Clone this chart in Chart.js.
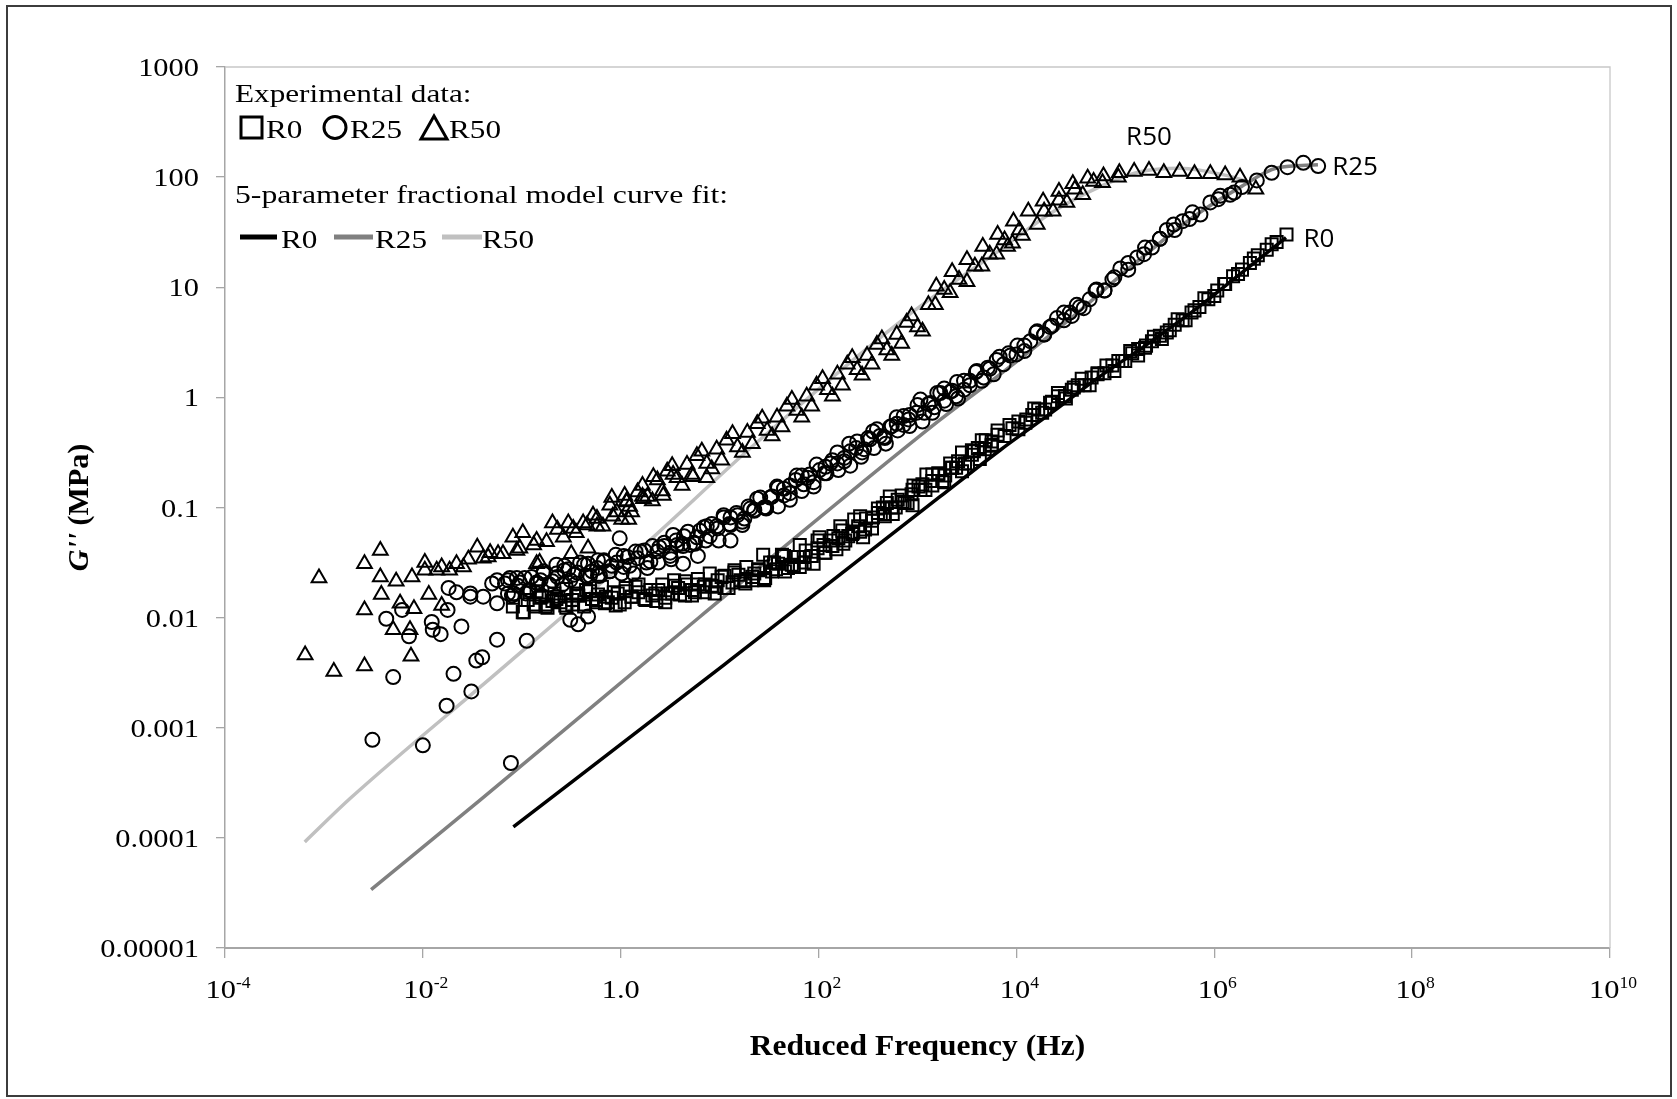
<!DOCTYPE html>
<html>
<head>
<meta charset="utf-8">
<title>G'' vs reduced frequency</title>
<script src="https://cdn.jsdelivr.net/npm/chart.js@4.4.1/dist/chart.umd.min.js"></script>
<style>
  html, body { margin: 0; padding: 0; background: #fff; }
  #wrap { width: 1677px; height: 1099px; }
</style>
</head>
<body>
<div id="wrap"><canvas id="chart" width="1677" height="1099"></canvas></div>
<script>
// All values as [log10 f (Hz), log10 G'' (MPa)]

// tick positions (exponents) and y tick labels
const xTickExps = [-4, -2, 0, 2, 4, 6, 8, 10];
const yTickExps = [-5, -4, -3, -2, -1, 0, 1, 2, 3];
const yTickLabels = ['0.00001', '0.0001', '0.001', '0.01', '0.1', '1', '10', '100', '1000'];

// experimental data, R0 (squares)
const r0Exp = [
  [-0.98,-1.95],[-0.94,-1.84],[-0.88,-1.88],[-0.82,-1.82],[-0.76,-1.90],[-0.69,-1.85],[-0.63,-1.81],[-0.56,-1.89],
  [-0.49,-1.84],[-0.43,-1.80],[-0.36,-1.88],[-0.29,-1.83],[-0.23,-1.79],[-0.16,-1.87],[-0.09,-1.82],[-0.03,-1.78],
  [0.04,-1.86],[0.11,-1.81],[0.18,-1.77],[0.25,-1.84],[0.32,-1.80],[0.38,-1.75],[0.45,-1.82],[0.52,-1.78],
  [0.58,-1.73],[0.65,-1.80],[0.72,-1.75],[0.78,-1.70],[0.85,-1.77],[0.92,-1.71],[0.98,-1.66],[1.05,-1.73],
  [1.13,-1.68],[1.19,-1.61],[1.26,-1.69],[1.33,-1.63],[1.39,-1.57],[1.46,-1.64],[1.53,-1.58],[1.59,-1.51],
  [1.66,-1.58],[1.73,-1.52],[1.79,-1.45],[1.86,-1.50],[1.93,-1.44],[1.99,-1.37],[2.07,-1.41],[2.14,-1.35],
  [2.20,-1.28],[2.27,-1.30],[2.34,-1.24],[2.40,-1.17],[2.47,-1.20],[2.54,-1.12],[2.60,-1.05],[2.67,-1.08],
  [2.74,-1.00],[2.80,-0.93],[2.87,-0.96],[2.94,-0.88],[3.01,-0.81],[3.08,-0.84],[3.15,-0.76],[3.21,-0.70],
  [3.28,-0.71],[3.35,-0.64],[3.41,-0.58],[3.48,-0.60],[3.55,-0.52],[3.61,-0.46],[3.68,-0.47],[3.75,-0.40],
  [3.81,-0.34],[3.88,-0.35],[3.96,-0.28],[4.02,-0.22],[4.09,-0.23],[4.16,-0.16],[4.22,-0.11],[4.29,-0.11],
  [4.36,-0.04],[4.42,0.01],[4.49,0.01],[4.56,0.07],[4.62,0.11],[4.69,0.11],[4.76,0.18],[4.82,0.22],
  [4.89,0.22],[4.97,0.29],[5.03,0.33],[5.10,0.33],[5.17,0.40],[5.23,0.44],[5.30,0.45],[5.37,0.51],
  [5.45,0.56],[5.52,0.59],[5.60,0.66],[5.68,0.70],[5.77,0.77],[5.85,0.82],[5.94,0.89],[6.03,0.97],
  [6.11,1.03],[6.19,1.10],[6.28,1.16],[6.36,1.22],[6.44,1.29],[6.53,1.34],[6.63,1.41],[6.73,1.48],
  [-1.09,-1.82],[-0.99,-1.95],[-1.09,-1.90],[1.44,-1.43],[1.81,-1.34],[2.01,-1.27],[2.22,-1.17],[2.42,-1.08],
  [2.69,-0.96],[2.95,-0.84]
];
// further passes over the dense R0 band
const r0ExpDense = [
  [-0.92,-1.77],[-0.86,-1.90],[-0.80,-1.81],[-0.74,-1.91],[-0.67,-1.78],[-0.61,-1.86],[-0.55,-1.74],[-0.49,-1.88],
  [-0.43,-1.80],[-0.37,-1.90],[-0.31,-1.76],[-0.25,-1.84],[-0.19,-1.72],[-0.13,-1.86],[-0.07,-1.77],[-0.01,-1.88],
  [0.05,-1.73],[0.11,-1.81],[0.18,-1.70],[0.24,-1.83],[0.30,-1.75],[0.36,-1.85],[0.42,-1.70],[0.48,-1.78],
  [0.54,-1.66],[0.60,-1.79],[0.66,-1.70],[0.72,-1.80],[0.78,-1.65],[0.84,-1.72],[0.90,-1.60],[0.96,-1.72],
  [1.02,-1.63],[1.09,-1.73],[1.15,-1.59],[1.21,-1.66],[1.27,-1.54],[1.33,-1.66],[1.39,-1.56],[1.45,-1.65],
  [1.51,-1.50],[1.57,-1.56],[1.63,-1.43],[1.69,-1.55],[1.75,-1.45],[1.81,-1.54],[1.87,-1.39],[1.93,-1.44],
  [1.99,-1.30],[2.06,-1.41],[2.12,-1.30],[2.18,-1.38],[2.24,-1.21],[2.30,-1.26],[2.36,-1.11],[2.42,-1.22],
  [2.48,-1.10],[2.54,-1.19],[2.60,-1.01],[2.66,-1.06],[2.72,-0.90],[2.78,-1.00],[2.84,-0.89],[2.90,-0.96],
  [2.96,-0.80],[3.03,-0.84],[3.09,-0.70],[3.15,-0.80],[3.21,-0.69],[3.27,-0.77],[3.33,-0.60],[3.39,-0.64],
  [3.45,-0.50],[3.51,-0.60],[3.57,-0.49],[3.63,-0.56],[3.69,-0.39],[3.75,-0.43],[3.81,-0.30],
  [3.93,-0.25],[4.02,-0.29],[4.10,-0.20],[4.18,-0.10],[4.26,-0.14],[4.34,-0.05],[4.42,0.04],[4.50,-0.01],
  [4.58,0.09],[4.66,0.17],[4.74,0.11],[4.82,0.21],[4.91,0.29],[4.99,0.24],[5.07,0.33],[5.15,0.42],
  [5.23,0.38],[5.31,0.47],[5.39,0.55],[5.47,0.53],[5.55,0.61],[5.63,0.71],[5.71,0.70],[5.80,0.79],
  [5.90,0.90],[6.00,0.92],[6.10,1.03],[6.24,1.12],[6.40,1.26],[6.58,1.39],
  [-0.85,-1.76],[-0.75,-1.88],[-0.65,-1.83],[-0.55,-1.91],[-0.45,-1.78],[-0.35,-1.75],[-0.25,-1.86],[-0.15,-1.81],
  [-0.05,-1.89],[0.05,-1.76],[0.15,-1.72],[0.25,-1.83],[0.35,-1.78],[0.45,-1.86],[0.55,-1.71],[0.65,-1.67],
  [0.75,-1.77],[0.85,-1.70],[0.95,-1.78],[1.05,-1.62],[1.15,-1.57],[1.25,-1.67],[1.35,-1.60],[1.45,-1.66],
  [1.55,-1.50],[1.65,-1.44],[1.75,-1.53],[1.85,-1.45],[1.95,-1.51],[2.05,-1.34],[2.15,-1.26],[2.25,-1.33],
  [2.35,-1.23],[2.45,-1.27],[2.55,-1.09],[2.65,-1.00],[2.75,-1.06],[2.85,-0.95],[2.95,-0.98],[3.05,-0.79],
  [3.15,-0.70],[3.25,-0.76],[3.35,-0.64],[3.45,-0.67],[3.55,-0.48],[3.65,-0.39],[3.75,-0.44]
];

// experimental data, R25 (circles)
const r25Exp = [
  [-2.51,-3.11],[-2.30,-2.54],[-2.00,-3.16],[-1.76,-2.80],[-1.69,-2.51],[-1.51,-2.67],[-1.46,-2.39],[-1.40,-2.36],
  [-1.25,-2.20],[-0.95,-2.21],[-1.11,-3.32],[-2.37,-2.01],[-2.21,-1.93],[-2.14,-2.17],[-1.91,-2.04],[-1.90,-2.11],
  [-1.82,-2.15],[-1.61,-2.08],[-1.75,-1.93],[-1.66,-1.77],[-1.52,-1.81],[-1.39,-1.81],[-1.25,-1.87],[-1.25,-1.66],
  [-1.12,-1.64],[-0.65,-1.52],[-0.01,-1.28],[-0.51,-2.02],[-0.43,-2.06],[-0.33,-1.99],[0.53,-1.25],[1.11,-1.30],
  [-1.74,-1.73],[-1.52,-1.78],[-1.30,-1.69],[-1.14,-1.78],[-0.23,-1.48],[0.63,-1.51],[0.78,-1.44],
  [-1.17,-1.69],[-1.10,-1.80],[-1.04,-1.71],[-0.97,-1.64],[-0.92,-1.75],[-0.85,-1.68],[-0.78,-1.60],[-0.72,-1.70],
  [-0.64,-1.63],[-0.57,-1.57],[-0.51,-1.66],[-0.44,-1.59],[-0.37,-1.52],[-0.31,-1.62],[-0.24,-1.55],[-0.17,-1.48],
  [-0.11,-1.58],[-0.04,-1.50],[0.03,-1.44],[0.09,-1.53],[0.17,-1.46],[0.24,-1.39],[0.30,-1.49],[0.37,-1.40],
  [0.44,-1.32],[0.50,-1.41],[0.57,-1.34],[0.64,-1.26],[0.70,-1.34],[0.77,-1.27],[0.84,-1.18],[0.90,-1.26],
  [0.97,-1.17],[1.04,-1.09],[1.10,-1.15],[1.18,-1.07],[1.25,-1.10],[1.31,-1.01],[1.38,-0.92],[1.45,-1.00],
  [1.51,-0.91],[1.58,-0.81],[1.65,-0.89],[1.71,-0.80],[1.78,-0.71],[1.85,-0.79],[1.91,-0.70],[1.98,-0.61],
  [2.06,-0.69],[2.12,-0.60],[2.19,-0.50],[2.26,-0.58],[2.32,-0.49],[2.39,-0.40],[2.46,-0.47],[2.52,-0.38],
  [2.59,-0.29],[2.66,-0.36],[2.72,-0.27],[2.79,-0.18],[2.86,-0.25],[2.92,-0.16],[3.00,-0.07],[3.07,-0.14],
  [3.13,-0.05],[3.20,0.04],[3.27,-0.03],[3.33,0.05],[3.40,0.14],[3.47,0.07],[3.53,0.15],[3.60,0.24],
  [3.67,0.18],[3.73,0.26],[3.80,0.34],[3.87,0.30],[3.94,0.38],[4.01,0.47],[4.08,0.42],[4.14,0.51],
  [4.21,0.60],[4.28,0.57],[4.34,0.64],[4.41,0.72],[4.48,0.70],[4.54,0.77],[4.61,0.84],[4.68,0.81],
  [4.74,0.89],[4.81,0.98],[4.89,0.97],[4.97,1.07],[5.05,1.17],[5.13,1.16],[5.22,1.27],[5.30,1.36],
  [5.37,1.36],[5.45,1.44],[5.52,1.52],[5.60,1.52],[5.68,1.60],[5.78,1.68],[5.86,1.66],[5.96,1.77],
  [6.06,1.83],[6.16,1.84],[6.28,1.91],[6.43,1.97],[6.58,2.04],[6.74,2.09],[6.90,2.13],[7.05,2.10]
];
// further passes over the dense R25 band
const r25ExpDense = [
  [-1.14,-1.66],[-1.08,-1.78],[-1.02,-1.68],[-0.96,-1.78],[-0.90,-1.63],[-0.84,-1.69],[-0.78,-1.58],[-0.72,-1.70],
  [-0.65,-1.60],[-0.59,-1.70],[-0.53,-1.56],[-0.47,-1.61],[-0.41,-1.50],[-0.35,-1.62],[-0.29,-1.58],[-0.23,-1.62],
  [-0.17,-1.49],[-0.11,-1.58],[-0.05,-1.43],[0.01,-1.60],[0.07,-1.45],[0.13,-1.60],[0.20,-1.40],[0.26,-1.50],
  [0.32,-1.35],[0.38,-1.50],[0.44,-1.35],[0.50,-1.44],[0.56,-1.30],[0.62,-1.33],[0.68,-1.22],[0.74,-1.32],
  [0.80,-1.21],[0.86,-1.30],[0.92,-1.15],[0.98,-1.19],[1.04,-1.07],[1.11,-1.16],[1.17,-1.05],[1.23,-1.13],
  [1.29,-0.99],[1.35,-1.02],[1.41,-0.91],[1.47,-1.01],[1.53,-0.90],[1.59,-0.99],[1.65,-0.83],[1.71,-0.87],
  [1.77,-0.75],[1.83,-0.85],[1.89,-0.73],[1.95,-0.81],[2.01,-0.66],[2.08,-0.69],[2.14,-0.57],[2.20,-0.66],
  [2.26,-0.55],[2.32,-0.62],[2.38,-0.46],[2.44,-0.50],[2.50,-0.37],[2.56,-0.46],[2.62,-0.35],[2.68,-0.42],
  [2.74,-0.26],[2.80,-0.30],[2.86,-0.17],[2.92,-0.26],[2.99,-0.14],[3.05,-0.22],[3.11,-0.06],[3.17,-0.09],
  [3.23,0.04],[3.29,-0.06],[3.35,0.06],[3.41,-0.01],[3.47,0.15],[3.53,0.11],[3.59,0.23],[3.65,0.15],
  [3.71,0.27],[3.77,0.21],[3.83,0.37],
  [3.92,0.40],[4.00,0.39],[4.08,0.47],[4.20,0.59],[4.28,0.57],[4.36,0.65],[4.48,0.77],[4.56,0.74],
  [4.64,0.82],[4.80,0.97],[4.89,0.97],[4.99,1.09],[5.13,1.22],[5.29,1.30],[5.45,1.44],[5.59,1.57],
  [5.75,1.62],[6.04,1.80],[6.20,1.86],
  [-1.05,-1.64],[-0.93,-1.75],[-0.81,-1.66],[-0.69,-1.67],[-0.57,-1.53],[-0.45,-1.69],[-0.33,-1.51],[-0.21,-1.62],
  [-0.09,-1.53],[0.03,-1.54],[0.15,-1.40],[0.27,-1.55],[0.39,-1.36],[0.51,-1.47],[0.63,-1.35],[0.75,-1.33],
  [0.87,-1.17],[0.99,-1.30],[1.11,-1.09],[1.23,-1.16],[1.35,-1.03],[1.47,-1.00],[1.59,-0.82],[1.71,-0.93],
  [1.83,-0.71],[1.95,-0.77],[2.07,-0.63],[2.19,-0.60],[2.31,-0.42],[2.43,-0.54],[2.55,-0.31],[2.67,-0.37],
  [2.79,-0.24],[2.91,-0.20],[3.03,-0.02],[3.15,-0.14],[3.27,0.08],[3.39,0.01]
];

// experimental data, R50 (triangles)
const r50Exp = [
  [-3.05,-1.64],[-3.19,-2.34],[-2.90,-2.49],[-2.59,-1.51],[-2.43,-1.39],[-2.43,-1.63],[-2.59,-1.93],[-2.42,-1.79],
  [-2.59,-2.44],[-2.27,-1.67],[-2.11,-1.63],[-2.23,-1.87],[-2.09,-1.92],[-2.30,-2.11],[-2.13,-2.11],[-2.12,-2.35],
  [-1.98,-1.50],[-1.94,-1.79],[-1.81,-1.54],[-1.81,-1.89],[-1.66,-1.51],[-1.54,-1.47],[-1.45,-1.36],[-1.34,-1.45],
  [-1.19,-1.42],[-1.09,-1.27],[-0.99,-1.23],[-1.02,-1.37],[-0.85,-1.51],[-0.69,-1.14],[-0.85,-1.30],[-0.50,-1.42],
  [-0.33,-1.37],[-0.53,-1.14],[-0.38,-1.14],[-0.28,-1.07],[-0.11,-0.98],[0.04,-0.89],[0.08,-1.11],[-0.18,-1.17],
  [-1.98,-1.57],[-1.86,-1.57],[-1.73,-1.57],[-1.59,-1.54],[-1.39,-1.46],[-1.24,-1.42],[-1.05,-1.39],[-0.88,-1.34],
  [-0.75,-1.31],[-0.58,-1.27],[-0.45,-1.23],[-0.24,-1.17],[-0.08,-1.08],[0.09,-0.99],[0.23,-0.92],[0.43,-0.89],
  [0.33,-0.72],[0.53,-0.70],[0.73,-0.72],[0.87,-0.73],
  [-1.32,-1.41],[-0.82,-1.50],[-0.64,-1.20],[-0.48,-1.19],[-0.34,-1.16],[-0.24,-1.10],[0.06,-0.95],[0.22,-0.90],
  [-0.09,-0.91],[-0.04,-1.04],[0.01,-1.11],[0.06,-0.94],[0.11,-1.04],[0.17,-0.86],[0.22,-0.80],[0.27,-0.90],
  [0.32,-0.94],[0.37,-0.75],[0.42,-0.85],[0.47,-0.67],[0.52,-0.62],[0.57,-0.73],[0.62,-0.80],[0.67,-0.61],
  [0.72,-0.70],[0.77,-0.53],[0.82,-0.49],[0.87,-0.60],[0.92,-0.65],[0.97,-0.47],[1.02,-0.57],[1.07,-0.39],
  [1.13,-0.33],[1.18,-0.45],[1.23,-0.50],[1.28,-0.32],[1.33,-0.42],[1.38,-0.24],[1.43,-0.19],[1.48,-0.30],
  [1.53,-0.35],[1.58,-0.18],[1.63,-0.27],[1.68,-0.08],[1.73,-0.02],[1.78,-0.12],[1.83,-0.18],[1.88,0.01],
  [1.93,-0.08],[1.98,0.11],[2.04,0.17],[2.09,0.07],[2.14,0.01],[2.19,0.21],[2.24,0.11],[2.29,0.30],
  [2.34,0.36],[2.39,0.25],[2.44,0.20],[2.49,0.38],[2.54,0.30],[2.59,0.48],[2.64,0.53],[2.69,0.43],
  [2.74,0.38],[2.79,0.57],[2.84,0.49],[2.89,0.68],[2.94,0.74],[3.00,0.64],[3.05,0.60],
  [3.18,0.84],[3.33,0.95],[3.50,1.05],[3.65,1.19],[3.80,1.30],[3.91,1.37],[3.96,1.40],[4.06,1.47],
  [4.21,1.57],[4.37,1.69],[4.51,1.77],[4.67,1.84],[4.87,1.95],[5.03,2.00],
  [3.11,0.84],[3.27,0.98],[3.42,1.07],[3.58,1.19],[3.73,1.30],[3.88,1.43],[4.03,1.52],[4.28,1.69],
  [4.43,1.79],[4.59,1.89],[4.78,1.96],
  [3.19,1.01],[3.35,1.14],[3.50,1.25],[3.66,1.37],[3.81,1.48],[3.97,1.60],[4.12,1.69],[4.27,1.78],
  [4.43,1.87],[4.57,1.94],[4.72,1.99],[4.88,2.01],[5.04,2.04],[5.19,2.05],[5.34,2.06],[5.49,2.04],
  [5.65,2.05],[5.80,2.03],[5.96,2.03],[6.11,2.02],[6.26,2.00],[6.42,1.89]
];

// 5-parameter fractional model curve fits
const r0Fit = [[-1.085,-3.901],[0.801,-2.598],[1.105,-2.386],[3.227,-0.902],[3.834,-0.48],[4.339,-0.15],
  [4.845,0.19],[5.350,0.50],[5.856,0.83],[6.190,1.07],[6.725,1.45]];
const r25Fit = [[-2.523,-4.470],[-1.422,-3.658],[0.801,-1.992],[3.227,-0.205],[3.867,0.232],[4.592,0.750],
  [5.216,1.231],[5.805,1.649],[6.277,1.916],[6.631,2.083],[7.048,2.113]];
const r50Fit = [[-3.194,-4.037],[-2.736,-3.643],[-1.220,-2.477],[0.195,-1.377],[1.375,-0.41],[2.891,0.734],
  [3.834,1.340],[4.339,1.668],[4.845,1.913],[5.249,2.049],[5.653,2.081],[6.159,2.007],[6.310,1.968]];

const toPts = arr => arr.map(([lf, lg]) => ({ x: Math.pow(10, lf), y: Math.pow(10, lg) }));

const SERIF = '"Liberation Serif", "Times New Roman", serif';
const SANS = '"Open Sans", "Noto Sans", sans-serif';

// draws text stretched horizontally by sx
function drawText(ctx, str, x, y, font, sx, align) {
  ctx.save();
  ctx.font = font;
  ctx.textBaseline = 'alphabetic';
  ctx.textAlign = 'left';
  const w = ctx.measureText(str).width * sx;
  let left = x;
  if (align === 'center') left = x - w / 2;
  else if (align === 'right') left = x - w;
  ctx.translate(left, y);
  ctx.scale(sx, 1);
  ctx.fillText(str, 0, 0);
  ctx.restore();
  return w;
}

const decorPlugin = {
  id: 'decor',
  afterDraw(chart) {
    const { ctx, chartArea: a, scales: { x, y } } = chart;
    ctx.save();
    ctx.fillStyle = '#000';

    // outer frame
    ctx.strokeStyle = '#3c3c3c';
    ctx.lineWidth = 2;
    ctx.strokeRect(7, 6, 1664, 1090);

    // plot area top/right border
    ctx.strokeStyle = '#c8c8c8';
    ctx.lineWidth = 1.3;
    ctx.beginPath();
    ctx.moveTo(a.left, a.top);
    ctx.lineTo(a.right, a.top);
    ctx.lineTo(a.right, a.bottom);
    ctx.stroke();

    // y tick labels
    yTickExps.forEach((e, i) => {
      const py = y.getPixelForValue(Math.pow(10, e));
      drawText(ctx, yTickLabels[i], a.left - 26, py + 9, '26px ' + SERIF, 1.17, 'right');
    });

    // x tick labels with superscript exponents
    xTickExps.forEach(e => {
      const px = x.getPixelForValue(Math.pow(10, e));
      const base = a.bottom + 50;
      if (e === 0) {
        drawText(ctx, '1.0', px, base, '26px ' + SERIF, 1.17, 'center');
        return;
      }
      ctx.font = '26px ' + SERIF;
      const w1 = ctx.measureText('10').width * 1.17;
      ctx.font = '16px ' + SERIF;
      const w2 = ctx.measureText(String(e)).width * 1.1;
      const left = px - (w1 + w2) / 2 + 3;
      drawText(ctx, '10', left, base, '26px ' + SERIF, 1.17, 'left');
      drawText(ctx, String(e), left + w1, base - 10, '16px ' + SERIF, 1.1, 'left');
    });

    // x axis title
    drawText(ctx, 'Reduced Frequency (Hz)', (a.left + a.right) / 2, 1055, 'bold 30px ' + SERIF, 1.05, 'center');

    // y axis title, rotated
    ctx.save();
    ctx.translate(88, (a.top + a.bottom) / 2);
    ctx.rotate(-Math.PI / 2);
    ctx.font = 'italic bold 30px ' + SERIF;
    const wg = ctx.measureText("G''").width;
    ctx.font = 'bold 30px ' + SERIF;
    const wu = ctx.measureText(' (MPa)').width;
    const start = -(wg + wu) / 2;
    ctx.font = 'italic bold 30px ' + SERIF;
    ctx.fillText("G''", start, 0);
    ctx.font = 'bold 30px ' + SERIF;
    ctx.fillText(' (MPa)', start + wg, 0);
    ctx.restore();

    // legend block
    const lf = '26px ' + SERIF;
    drawText(ctx, 'Experimental data:', 235, 102, lf, 1.2, 'left');
    ctx.strokeStyle = '#000';
    ctx.lineWidth = 3;
    ctx.strokeRect(241, 117, 21, 21);
    drawText(ctx, 'R0', 266, 138, lf, 1.2, 'left');
    ctx.beginPath();
    ctx.arc(335, 127.5, 11, 0, Math.PI * 2);
    ctx.stroke();
    drawText(ctx, 'R25', 350, 138, lf, 1.2, 'left');
    ctx.beginPath();
    ctx.moveTo(434, 116);
    ctx.lineTo(447, 139);
    ctx.lineTo(421, 139);
    ctx.closePath();
    ctx.stroke();
    drawText(ctx, 'R50', 449, 138, lf, 1.2, 'left');

    drawText(ctx, '5-parameter fractional model curve fit:', 235, 203, lf, 1.22, 'left');
    const segs = [['#000', 240, 277, 'R0', 281], ['#808080', 334, 373, 'R25', 375], ['#c0c0c0', 442, 482, 'R50', 482]];
    segs.forEach(([c, x0, x1, t, tx]) => {
      ctx.strokeStyle = c;
      ctx.lineWidth = 5;
      ctx.beginPath();
      ctx.moveTo(x0, 237);
      ctx.lineTo(x1, 237);
      ctx.stroke();
      drawText(ctx, t, tx, 248, lf, 1.2, 'left');
    });

    // series labels next to the data
    const lab = '26px ' + SANS;
    const last25 = r25Exp[r25Exp.length - 1];
    drawText(ctx, 'R25', x.getPixelForValue(Math.pow(10, last25[0])) + 14,
      y.getPixelForValue(Math.pow(10, last25[1])) + 9, lab, 1.0, 'left');
    const last0 = r0Exp.reduce((m, p) => (p[0] > m[0] ? p : m));
    drawText(ctx, 'R0', x.getPixelForValue(Math.pow(10, last0[0])) + 17,
      y.getPixelForValue(Math.pow(10, last0[1])) + 13, lab, 1.0, 'left');
    const peak50 = r50Exp.reduce((m, p) => (p[1] > m[1] ? p : m));
    drawText(ctx, 'R50', x.getPixelForValue(Math.pow(10, peak50[0])),
      y.getPixelForValue(Math.pow(10, peak50[1])) - 26, lab, 1.0, 'center');

    ctx.restore();
  }
};

// markers are drawn over the fitted curves
const markerBase = { showLine: false, backgroundColor: 'rgba(0,0,0,0)', borderColor: '#000', borderWidth: 2, order: 0 };
const lineBase = { showLine: true, pointRadius: 0, borderWidth: 3.5, fill: false, cubicInterpolationMode: 'monotone', order: 1 };

new Chart(document.getElementById('chart'), {
  type: 'scatter',
  data: {
    datasets: [
      { ...markerBase, label: 'R0', data: toPts(r0Exp.concat(r0ExpDense)), pointStyle: 'rect', pointRadius: 8.5 },
      { ...markerBase, label: 'R25', data: toPts(r25Exp.concat(r25ExpDense)), pointStyle: 'circle', pointRadius: 7 },
      { ...markerBase, label: 'R50', data: toPts(r50Exp), pointStyle: 'triangle', pointRadius: 8.5 },
      { ...lineBase, label: 'R0 fit', data: toPts(r0Fit), borderColor: '#000000' },
      { ...lineBase, label: 'R25 fit', data: toPts(r25Fit), borderColor: '#808080' },
      { ...lineBase, label: 'R50 fit', data: toPts(r50Fit), borderColor: '#c0c0c0' }
    ]
  },
  options: {
    responsive: false,
    animation: false,
    devicePixelRatio: 1,
    layout: { padding: { left: 0, top: 67, right: 67, bottom: 0 } },
    plugins: { legend: { display: false }, tooltip: { enabled: false } },
    scales: {
      x: {
        type: 'logarithmic',
        min: 1e-4,
        max: 1e10,
        afterBuildTicks: s => { s.ticks = xTickExps.map(e => ({ value: Math.pow(10, e) })); },
        afterFit: s => { s.height = 151; },
        ticks: { display: false },
        grid: { drawOnChartArea: false, drawTicks: true, tickLength: 10, color: '#a6a6a6', lineWidth: 1.3 },
        border: { display: true, color: '#a6a6a6', width: 2 }
      },
      y: {
        type: 'logarithmic',
        min: 1e-5,
        max: 1e3,
        afterBuildTicks: s => { s.ticks = yTickExps.map(e => ({ value: Math.pow(10, e) })); },
        afterFit: s => { s.width = 225; },
        ticks: { display: false },
        grid: { drawOnChartArea: false, drawTicks: true, tickLength: 9, color: '#a6a6a6', lineWidth: 1.3 },
        border: { display: true, color: '#a6a6a6', width: 1.5 }
      }
    }
  },
  plugins: [decorPlugin]
});
</script>
</body>
</html>
